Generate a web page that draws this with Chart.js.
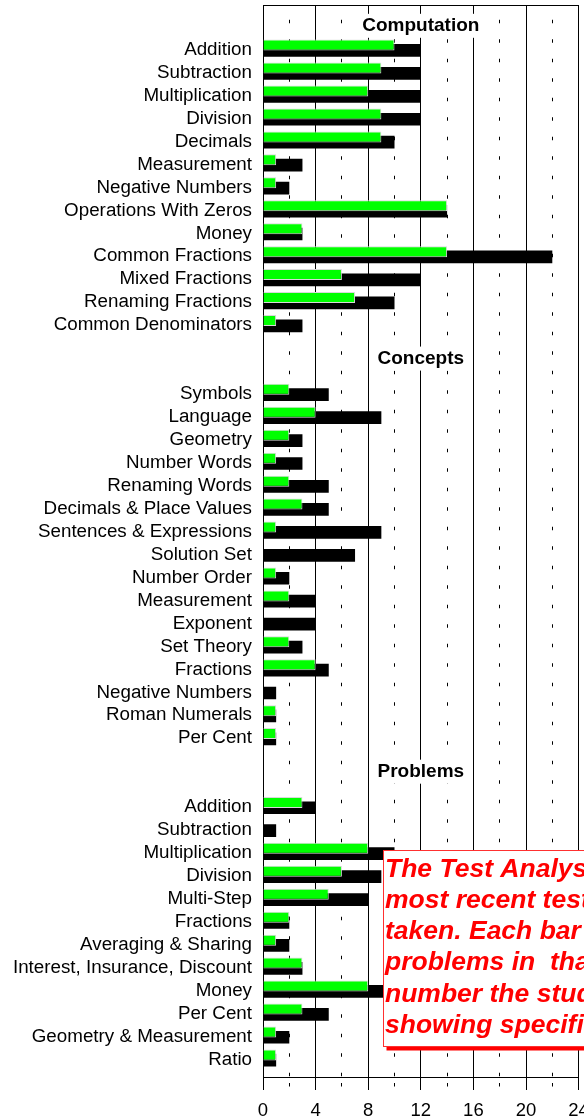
<!DOCTYPE html>
<html>
<head>
<meta charset="utf-8">
<title>Test Analysis</title>
<script src="https://cdn.jsdelivr.net/npm/chart.js@4.4.1/dist/chart.umd.min.js"></script>
<style>
  html, body { margin: 0; padding: 0; background: #fff; }
  #chart { display: block; }
</style>
</head>
<body>
<canvas id="chart" width="584" height="1120"></canvas>
<script>
// section titles and topics, top to bottom
const sectionTitles = ['Computation', 'Concepts', 'Problems'];

const computationTopics = ['Addition', 'Subtraction', 'Multiplication', 'Division', 'Decimals',
  'Measurement', 'Negative Numbers', 'Operations With Zeros', 'Money', 'Common Fractions',
  'Mixed Fractions', 'Renaming Fractions', 'Common Denominators'];
const computationCorrect = [10, 9, 8, 9, 9, 1, 1, 14, 3, 14, 6, 7, 1];
const computationTotal   = [12, 12, 12, 12, 10, 3, 2, 14, 3, 22, 12, 10, 3];

const conceptsTopics = ['Symbols', 'Language', 'Geometry', 'Number Words', 'Renaming Words',
  'Decimals & Place Values', 'Sentences & Expressions', 'Solution Set', 'Number Order',
  'Measurement', 'Exponent', 'Set Theory', 'Fractions', 'Negative Numbers', 'Roman Numerals', 'Per Cent'];
const conceptsCorrect = [2, 4, 2, 1, 2, 3, 1, 0, 1, 2, 0, 2, 4, 0, 1, 1];
const conceptsTotal   = [5, 9, 3, 3, 5, 5, 9, 7, 2, 4, 4, 3, 5, 1, 1, 1];

const problemsTopics = ['Addition', 'Subtraction', 'Multiplication', 'Division', 'Multi-Step',
  'Fractions', 'Averaging & Sharing', 'Interest, Insurance, Discount', 'Money', 'Per Cent',
  'Geometry & Measurement', 'Ratio'];
const problemsCorrect = [3, 0, 8, 6, 5, 2, 1, 3, 8, 3, 1, 1];
const problemsTotal   = [4, 1, 10, 9, 8, 2, 2, 3, 10, 5, 2, 1];

const xTicks = [0, 4, 8, 12, 16, 20, 24];

const noteLines = [
  'The Test Analysis shows the',
  'most recent test the student',
  'taken. Each bar shows the total',
  'problems in  that area and the',
  'number the student got right,',
  'showing specific weaknesses.'
];

// lay the sections out as rows on the y scale
const sections = [
  [computationTopics, computationCorrect, computationTotal],
  [conceptsTopics, conceptsCorrect, conceptsTotal],
  [problemsTopics, problemsCorrect, problemsTotal]
];
const rowLabels = [];
const headerRows = [];
const correctPoints = [];
const totalPoints = [];
let row = 0;
sections.forEach(([topics, correct, total], i) => {
  const gap = i === 0 ? 1 : 2;
  headerRows.push(row + (gap - 1) / 2);
  row += gap;
  topics.forEach((t, j) => {
    rowLabels[row] = t;
    correctPoints.push({ x: correct[j], y: row });
    totalPoints.push({ x: total[j], y: row });
    row++;
  });
});
const lastRow = row - 1;

const FONT = '"Liberation Sans", Arial, Helvetica, sans-serif';
const isMinor = c => c.tick && c.tick.value % 4 !== 0;

const overlay = {
  id: 'overlay',
  afterDraw(chart) {
    const { ctx, chartArea: a, scales: { x, y } } = chart;
    ctx.save();
    // top edge of the frame
    ctx.strokeStyle = '#000';
    ctx.lineWidth = 1;
    ctx.beginPath();
    ctx.moveTo(a.left, Math.round(a.top) + 0.5);
    ctx.lineTo(a.right, Math.round(a.top) + 0.5);
    ctx.stroke();

    // section headings
    ctx.font = 'bold 19px ' + FONT;
    ctx.textAlign = 'center';
    ctx.textBaseline = 'middle';
    const cx = x.getPixelForValue(12);
    headerRows.forEach((r, i) => {
      const cy = y.getPixelForValue(r) + 1;
      const w = ctx.measureText(sectionTitles[i]).width + 14;
      ctx.fillStyle = '#fff';
      ctx.fillRect(cx - w / 2, cy - 12, w, 24);
      ctx.fillStyle = '#000';
      ctx.fillText(sectionTitles[i], cx, cy);
    });

    // note box
    const bx = 383.5, by = 850.5, bw = 400, bh = 196;
    ctx.fillStyle = '#ff0000';
    ctx.fillRect(bx + 3, by + 4, bw, bh);
    ctx.fillStyle = '#fff';
    ctx.fillRect(bx, by, bw, bh);
    ctx.strokeStyle = '#ff3030';
    ctx.strokeRect(bx, by, bw, bh);
    ctx.fillStyle = '#ff0000';
    ctx.font = 'italic bold 26.5px ' + FONT;
    ctx.textAlign = 'left';
    ctx.textBaseline = 'alphabetic';
    noteLines.forEach((t, i) => ctx.fillText(t, 385, 876.5 + i * 31.3));
    ctx.restore();
  }
};

new Chart(document.getElementById('chart'), {
  type: 'bar',
  data: {
    datasets: [
      {
        label: 'Correct',
        data: correctPoints,
        backgroundColor: '#00ff00',
        borderColor: '#d9d9d9',
        borderWidth: 1,
        categoryPercentage: 0.462,
        barPercentage: 2.08
      },
      {
        label: 'Total Problems',
        data: totalPoints,
        backgroundColor: '#000000',
        borderWidth: 0,
        categoryPercentage: 0.462,
        barPercentage: 2.4
      }
    ]
  },
  options: {
    indexAxis: 'y',
    responsive: false,
    animation: false,
    devicePixelRatio: 1,
    layout: { padding: { top: 5, right: 5.4, bottom: 0, left: 0 } },
    plugins: { legend: { display: false }, tooltip: { enabled: false } },
    scales: {
      x: {
        type: 'linear',
        position: 'bottom',
        min: 0,
        max: 24,
        afterFit: s => { s.paddingLeft = 0; s.paddingRight = 0; s.height = 43; },
        ticks: {
          stepSize: 2,
          autoSkip: false,
          maxRotation: 0,
          padding: 11.75,
          color: '#000',
          font: { family: FONT, size: 18.5, lineHeight: 1 },
          callback: v => xTicks.includes(v) ? String(v) : ''
        },
        grid: {
          color: '#000',
          lineWidth: 1,
          tickLength: 13,
          tickColor: '#000',
          tickBorderDash: c => isMinor(c) ? [3.5, 40] : [],
          tickBorderDashOffset: c => isMinor(c) ? 38.5 : 0
        },
        border: {
          color: '#000',
          width: 1,
          dash: c => isMinor(c) ? [3.5, 16] : [],
          dashOffset: c => isMinor(c) ? 4.75 : 0
        }
      },
      y: {
        type: 'linear',
        reverse: true,
        offset: false,
        bounds: 'data',
        min: -0.863,
        max: lastRow + 0.847,
        afterBuildTicks: s => {
          s.ticks = Array.from({ length: lastRow + 1 }, (_, i) => ({ value: i }));
        },
        afterFit: s => { s.width = 263; s.paddingTop = 0; s.paddingBottom = 0; },
        ticks: {
          autoSkip: false,
          padding: 11,
          labelOffset: 2,
          color: '#000',
          font: { family: FONT, size: 18.8 },
          callback: v => rowLabels[v] || ''
        },
        grid: { display: false, drawTicks: false, offset: false },
        border: { display: true, color: '#000', width: 1 }
      }
    }
  },
  plugins: [overlay]
});
</script>
</body>
</html>
